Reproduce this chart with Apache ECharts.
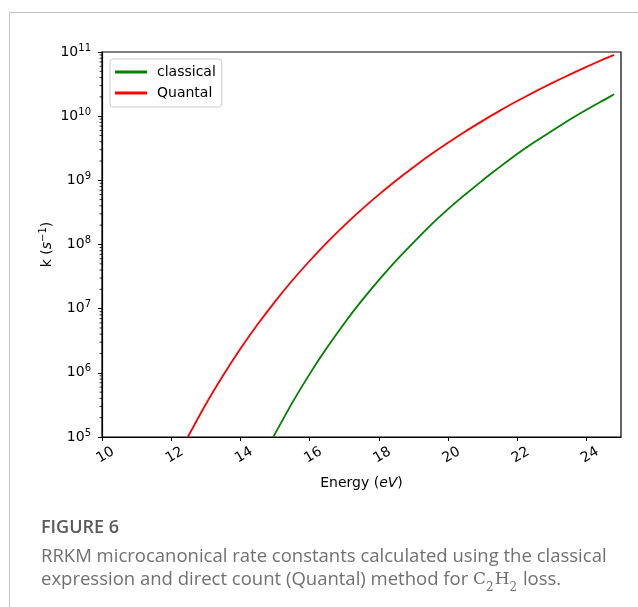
<!DOCTYPE html>
<html><head><meta charset="utf-8">
<script src="https://cdn.jsdelivr.net/npm/echarts@6/dist/echarts.min.js"></script>
<style>html,body{margin:0;padding:0;background:#fff}#c{width:638px;height:607px}</style>
</head><body><div id="c"></div>
<script>
// ---- data ----
const seriesNames = ['classical', 'Quantal'];
const energyClassical = [14.95, 15, 15.5, 16, 16.5, 17, 17.5, 18, 18.5, 19, 19.5, 20, 20.5, 21, 21.5, 22, 22.5, 23, 23.5, 24, 24.5, 24.8];
const kClassical = [1.0e5, 1.12e5, 3.43e5, 9.55e5, 2.45e6, 5.89e6, 1.32e7, 2.79e7, 5.62e7, 1.07e8, 2.0e8, 3.55e8, 6.03e8, 1.0e9, 1.62e9, 2.57e9, 3.94e9, 5.89e9, 8.71e9, 1.26e10, 1.78e10, 2.19e10];
const energyQuantal = [12.48, 13, 13.5, 14, 14.5, 15, 15.5, 16, 16.5, 17, 17.5, 18, 18.5, 19, 19.5, 20, 20.5, 21, 21.5, 22, 22.5, 23, 23.5, 24, 24.5, 24.8];
const kQuantal = [1.0e5, 3.24e5, 9.1e5, 2.37e6, 5.71e6, 1.29e7, 2.75e7, 5.53e7, 1.07e8, 1.97e8, 3.49e8, 5.98e8, 9.93e8, 1.60e9, 2.52e9, 3.85e9, 5.78e9, 8.45e9, 1.22e10, 1.72e10, 2.39e10, 3.27e10, 4.41e10, 5.87e10, 7.73e10, 9.04e10];
const xTicks = [10, 12, 14, 16, 18, 20, 22, 24];
const yTicks = [1e5, 1e6, 1e7, 1e8, 1e9, 1e10, 1e11];
const minorMultipliers = [2, 3, 4, 5, 6, 7, 8, 9];

const X_MIN = 10, X_MAX = 25;
const yMinor = [];
yTicks.slice(0, -1).forEach(d => minorMultipliers.forEach(m => yMinor.push(d * m)));

const chart = echarts.init(document.getElementById('c'), null, {renderer: 'canvas'});
const mplFont = 'DejaVu Sans';
const zip = (xs, ys) => xs.map((x, i) => [x, ys[i]]);
const capFont = 'Open Sans';
const capColor = '#707070';

chart.setOption({
  animation: false,
  backgroundColor: '#fff',
  grid: {left: 102, top: 52, right: 17, bottom: 170, show: true, borderColor: '#000', borderWidth: 1.2, backgroundColor: 'transparent'},
  legend: {
    data: seriesNames,
    orient: 'vertical', left: 110, top: 59,
    itemWidth: 32, itemHeight: 3, itemGap: 5, icon: 'rect',
    backgroundColor: '#fff', borderColor: '#cccccc', borderWidth: 1, borderRadius: 3,
    padding: [5, 6, 6, 5],
    textStyle: {fontFamily: mplFont, fontSize: 14, color: '#000', lineHeight: 16, padding: [0, 0, 0, 5]}
  },
  xAxis: {
    type: 'value', min: X_MIN, max: X_MAX,
    name: '{n|Energy (}{it|eV}{n|)}',
    nameLocation: 'middle', nameGap: 39,
    nameTextStyle: {fontFamily: mplFont, fontSize: 14, color: '#000',
      rich: {n: {fontFamily: mplFont, fontSize: 14, color: '#000'}, it: {fontFamily: mplFont, fontSize: 14, fontStyle: 'italic', color: '#000'}}},
    axisLine: {show: true, lineStyle: {color: '#000', width: 1.2}},
    axisTick: {show: true, inside: false, length: 4, lineStyle: {color: '#000', width: 1}, customValues: xTicks},
    axisLabel: {show: true, customValues: xTicks, rotate: 30, align: 'center', verticalAlign: 'top', margin: 12,
      fontFamily: mplFont, fontSize: 14, color: '#000'},
    splitLine: {show: false}
  },
  yAxis: {
    type: 'log', logBase: 10, min: 1e5, max: 1e11,
    name: '{n|k (}{it|s}{sup|−1}{n|)}',
    nameLocation: 'middle', nameGap: 46, nameRotate: 90, nameMoveOverlap: false,
    nameTextStyle: {fontFamily: mplFont, fontSize: 14, color: '#000',
      rich: {
        n: {fontFamily: mplFont, fontSize: 14, color: '#000', lineHeight: 18},
        it: {fontFamily: mplFont, fontSize: 14, fontStyle: 'italic', color: '#000', lineHeight: 18},
        sup: {fontFamily: mplFont, fontSize: 10, color: '#000', verticalAlign: 'top', lineHeight: 10}
      }},
    axisLine: {show: true, lineStyle: {color: '#000', width: 1.2}},
    axisTick: {show: true, inside: false, length: 4, lineStyle: {color: '#000', width: 1}, customValues: yTicks},
    axisLabel: {
      show: true, customValues: yTicks, margin: 11,
      formatter: v => '{b|10}{sup|' + Math.round(Math.log10(v)) + '}',
      rich: {
        b: {fontFamily: mplFont, fontSize: 14, color: '#000', lineHeight: 18},
        sup: {fontFamily: mplFont, fontSize: 10, color: '#000', verticalAlign: 'top', lineHeight: 10}
      }
    },
    splitLine: {show: false}
  },
  series: [
    {name: seriesNames[0], type: 'line', data: zip(energyClassical, kClassical), showSymbol: false, symbol: 'none',
      color: '#008000', lineStyle: {color: '#008000', width: 1.8}, smooth: 0.2, clip: true, z: 3},
    {name: seriesNames[1], type: 'line', data: zip(energyQuantal, kQuantal), showSymbol: false, symbol: 'none',
      color: '#ff0000', lineStyle: {color: '#ff0000', width: 1.8}, smooth: 0.2, clip: true, z: 3},
    {name: 'minorTicks', type: 'custom', silent: true, clip: false, z: 4,
      data: yMinor.map(v => [X_MIN, v]),
      renderItem: (params, api) => {
        const p = api.coord([api.value(0), api.value(1)]);
        return {type: 'line', shape: {x1: p[0], y1: p[1], x2: p[0] - 2.5, y2: p[1]}, style: {stroke: '#000', lineWidth: 0.8}};
      }}
  ],
  graphic: [
    {type: 'polyline', silent: true, shape: {points: [[9.5, 607], [9.5, 12.5], [638, 12.5]]}, style: {stroke: '#c2c2c2', lineWidth: 1, fill: null}},
    {type: 'text', left: 41, top: 519, style: {text: 'FIGURE 6', font: '600 18px "Open Sans"', fill: '#5a5a5a'}},
    {type: 'text', left: 41, top: 547, style: {text: 'RRKM microcanonical rate constants calculated using the classical', font: '18.5px "Open Sans"', fill: capColor}},
    {type: 'text', left: 41, top: 570, style: {
      text: '{t|expression and direct count (Quantal) method for }{m|C}{s|2}{m|H}{s|2}{t| loss.}',
      font: '18.5px "Open Sans"', fill: capColor,
      rich: {
        t: {fontFamily: capFont, fontSize: 18.5, fill: capColor, lineHeight: 24},
        m: {fontFamily: 'DejaVu Serif', fontSize: 17, fill: capColor, lineHeight: 24},
        s: {fontFamily: 'DejaVu Serif', fontSize: 12, fill: capColor, verticalAlign: 'bottom', lineHeight: 12, padding: [0, 1, -2, 0]}
      }}}
  ]
});
</script></body></html>
